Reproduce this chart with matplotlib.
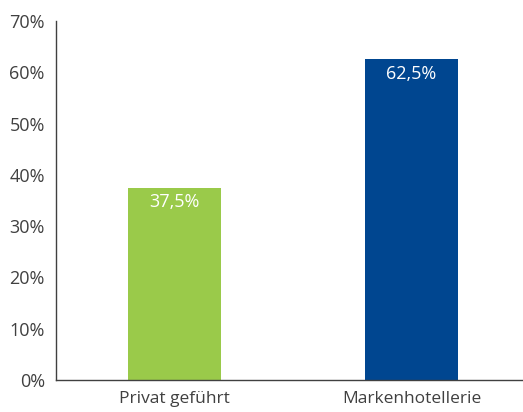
import matplotlib
matplotlib.use('Agg')
import matplotlib.pyplot as plt
from matplotlib.ticker import PercentFormatter

categories = ["Privat geführt", "Markenhotellerie"]
shares = [37.5, 62.5]
bar_colors = ["#9aca4a", "#004690"]
value_labels = ["37,5%", "62,5%"]

plt.rcParams['font.family'] = ['Open Sans', 'DejaVu Sans']
text_color = "#404040"

fig = plt.figure(figsize=(5.23, 4.12), dpi=100)
ax = fig.add_axes([0.107, 0.078, 0.893, 0.871])

x = range(len(categories))
bars = ax.bar(x, shares, width=0.39, color=bar_colors)

# value labels sit inside the top of each bar
for bar, label in zip(bars, value_labels):
    ax.text(bar.get_x() + bar.get_width() / 2, bar.get_height() - 1.0, label,
            ha='center', va='top', color='white', fontsize=13)

ax.set_xlim(-0.5, 1.47)
ax.set_ylim(0, 70)
ax.set_yticks(range(0, 71, 10))
ax.yaxis.set_major_formatter(PercentFormatter(decimals=0))
ax.set_xticks(list(x))
ax.set_xticklabels(categories)

for side in ['top', 'right']:
    ax.spines[side].set_visible(False)
for side in ['left', 'bottom']:
    ax.spines[side].set_color("#404040")
    ax.spines[side].set_linewidth(1.0)

ax.tick_params(axis='both', length=0, labelsize=13, colors=text_color)
ax.tick_params(axis='y', pad=8)
ax.tick_params(axis='x', pad=8, labelsize=12.5)

fig.savefig("out.png", dpi=100)
